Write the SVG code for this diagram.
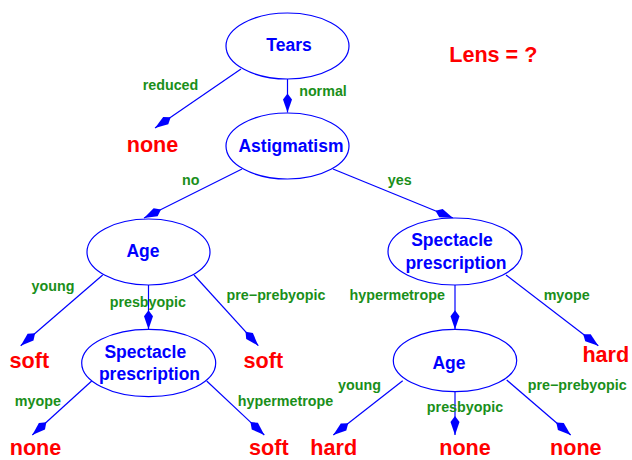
<svg xmlns="http://www.w3.org/2000/svg" width="632" height="460" viewBox="0 0 632 460">
<style>
.node ellipse{fill:#fff;stroke:#0000ff;stroke-width:1.2}
.nt{font-family:"Liberation Sans",Arial,sans-serif;font-weight:bold;font-size:17.5px;fill:#0000ff;text-anchor:middle}
.leaf{font-family:"Liberation Sans",Arial,sans-serif;font-weight:bold;font-size:21.6px;fill:#ff0000;text-anchor:middle}
.el{font-family:"Liberation Sans",Arial,sans-serif;font-weight:bold;font-size:14.3px;fill:#1a8f1a;text-anchor:middle}
.edges line{stroke:#0000ff;stroke-width:1.2;marker-end:url(#kite)}
</style>
<defs>
<marker id="kite" markerUnits="userSpaceOnUse" viewBox="0 0 20 10" refX="19" refY="5" markerWidth="20" markerHeight="10" orient="auto">
<path d="M0,5 L6,0.5 L19,5 L6,9.5 Z" fill="#0000ff"/>
</marker>
</defs>
<rect width="632" height="460" fill="#fff"/>
<g class="edges" id="connectors">
<line x1="241" y1="69" x2="155" y2="128"/>
<line x1="287.5" y1="79" x2="287.5" y2="112.5"/>
<line x1="242" y1="169" x2="144" y2="218"/>
<line x1="333" y1="169" x2="453" y2="218"/>
<line x1="102.7" y1="275" x2="20.7" y2="345.7"/>
<line x1="148.5" y1="285" x2="148.5" y2="329.3"/>
<line x1="194" y1="275" x2="258.3" y2="345.7"/>
<line x1="91.7" y1="381" x2="32.3" y2="435"/>
<line x1="206.7" y1="381" x2="264.3" y2="435"/>
<line x1="455" y1="285" x2="455" y2="329.3"/>
<line x1="506" y1="275" x2="598.3" y2="345.7"/>
<line x1="402.7" y1="380.7" x2="333.3" y2="435"/>
<line x1="455" y1="391.7" x2="455" y2="435"/>
<line x1="506.7" y1="380" x2="570.7" y2="435"/>
</g>
<g id="edge-labels">
<text class="el" x="170.5" y="89.5">reduced</text>
<text class="el" x="323" y="95.7">normal</text>
<text class="el" x="190.8" y="185">no</text>
<text class="el" x="399.7" y="185">yes</text>
<text class="el" x="53" y="290.5">young</text>
<text class="el" x="147.8" y="306.5">presbyopic</text>
<text class="el" x="276" y="300">pre−prebyopic</text>
<text class="el" x="397.2" y="300">hypermetrope</text>
<text class="el" x="566.7" y="300">myope</text>
<text class="el" x="37.8" y="406">myope</text>
<text class="el" x="285.5" y="406">hypermetrope</text>
<text class="el" x="359.5" y="390">young</text>
<text class="el" x="465" y="411.7">presbyopic</text>
<text class="el" x="577.2" y="390">pre−prebyopic</text>
</g>
<g id="n-tears" class="node"><ellipse cx="287.5" cy="46" rx="61.5" ry="33"/><text class="nt" x="289" y="51">Tears</text></g>
<g id="n-astig" class="node"><ellipse cx="287.5" cy="146" rx="61.5" ry="33"/><text class="nt" x="291" y="152">Astigmatism</text></g>
<g id="n-age1" class="node"><ellipse cx="148.5" cy="252" rx="61.5" ry="33"/><text class="nt" x="143" y="257.3">Age</text></g>
<g id="n-spec1" class="node"><ellipse cx="455" cy="251.5" rx="67" ry="33.5"/><text class="nt" x="452" y="246">Spectacle</text><text class="nt" x="456" y="268.5">prescription</text></g>
<g id="n-spec2" class="node"><ellipse cx="148.7" cy="363" rx="67" ry="33.7"/><text class="nt" x="145.3" y="358.3">Spectacle</text><text class="nt" x="149.5" y="380">prescription</text></g>
<g id="n-age2" class="node"><ellipse cx="455" cy="360.5" rx="61.7" ry="31.2"/><text class="nt" x="449" y="368.5">Age</text></g>
<g id="leaves">
<text id="title" class="leaf" x="493.3" y="61.7">Lens = ?</text>
<text id="l-none1" class="leaf" x="152.5" y="151.7">none</text>
<text id="l-soft1" class="leaf" x="29.3" y="368.3">soft</text>
<text id="l-soft2" class="leaf" x="263.3" y="368.3">soft</text>
<text id="l-hard1" class="leaf" x="605.8" y="361.7">hard</text>
<text id="l-none2" class="leaf" x="35.5" y="455">none</text>
<text id="l-soft3" class="leaf" x="268.8" y="455">soft</text>
<text id="l-hard2" class="leaf" x="333.7" y="455">hard</text>
<text id="l-none3" class="leaf" x="465" y="455">none</text>
<text id="l-none4" class="leaf" x="575.8" y="455">none</text>
</g>
</svg>
